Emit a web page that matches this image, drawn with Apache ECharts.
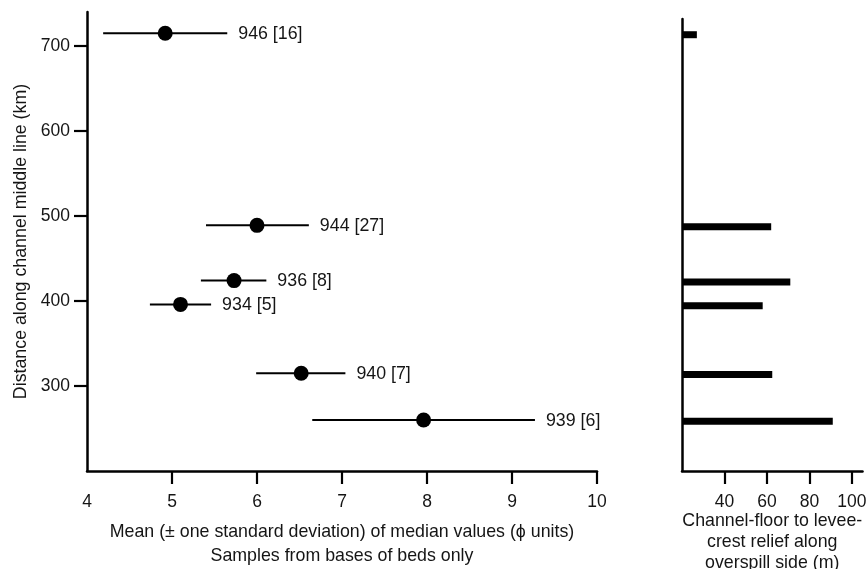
<!DOCTYPE html>
<html>
<head>
<meta charset="utf-8">
<script src="https://cdn.jsdelivr.net/npm/echarts@6/dist/echarts.min.js"></script>
<style>
html,body{margin:0;padding:0;background:#fff;}
#chart{width:868px;height:569px;}
</style>
</head>
<body>
<div id="chart"></div>
<script>
// ---- data ----
const sites      = ['946', '944', '936', '934', '940', '939'];
const sampleN    = [16, 27, 8, 5, 7, 6];
const distanceKm = [715, 489, 424, 396, 315, 260];
const meanPhi    = [4.92, 6.00, 5.73, 5.10, 6.52, 7.96];
const lowPhi     = [4.19, 5.40, 5.34, 4.74, 5.99, 6.65];
const highPhi    = [5.65, 6.61, 6.11, 5.46, 7.04, 9.27];
const reliefM    = [27, 62, 71, 58, 62.5, 91];

const phiTicks    = [4, 5, 6, 7, 8, 9, 10];
const distTicks   = [300, 400, 500, 600, 700];
const reliefTicks = [40, 60, 80, 100];

const siteLabels = sites.map((s, i) => s + ' [' + sampleN[i] + ']');
const errRows = sites.map((s, i) => [lowPhi[i], highPhi[i], distanceKm[i]]);
const meanRows = sites.map((s, i) => [meanPhi[i], distanceKm[i]]);
const barRows = sites.map((s, i) => [reliefM[i], distanceKm[i]]);

const FONT = '"Liberation Sans", Arial, sans-serif';
const TXT = '#151515';

const chart = echarts.init(document.getElementById('chart'), null, {renderer: 'canvas'});
chart.setOption({
  animation: false,
  backgroundColor: '#fff',
  textStyle: {fontFamily: FONT},
  grid: [
    {left: 87, right: 271, top: 12, bottom: 98, containLabel: false, outerBoundsMode: 'none'},
    {left: 682, right: 5.5, top: 19, bottom: 98, containLabel: false, outerBoundsMode: 'none'}
  ],
  xAxis: [
    {
      gridIndex: 0, type: 'value', min: 4, max: 10, interval: 1,
      axisLine: {onZero: false, lineStyle: {color: '#000', width: 2.5}},
      axisTick: {show: true, length: 13, lineStyle: {color: '#000', width: 2.2},
                 customValues: phiTicks.slice(1)},
      axisLabel: {customValues: phiTicks, color: TXT, fontSize: 17.5, margin: 22, fontFamily: FONT},
      splitLine: {show: false},
      name: 'Mean (\u00B1 one standard deviation) of median values (\u03D5 units)\nSamples from bases of beds only',
      nameLocation: 'middle', nameGap: 49, nameMoveOverlap: false,
      nameTextStyle: {color: TXT, fontSize: 17.8, lineHeight: 24, fontFamily: FONT, verticalAlign: 'top'}
    },
    {
      gridIndex: 1, type: 'value', min: 20, max: 105,
      axisLine: {onZero: false, lineStyle: {color: '#000', width: 2.5}},
      axisTick: {show: true, length: 13, lineStyle: {color: '#000', width: 2.2},
                 customValues: reliefTicks},
      axisLabel: {customValues: reliefTicks, color: TXT, fontSize: 17.5, margin: 22, fontFamily: FONT},
      splitLine: {show: false},
      name: 'Channel-floor to levee-\ncrest relief along\noverspill side (m)',
      nameLocation: 'middle', nameGap: 40, nameMoveOverlap: false,
      nameTextStyle: {color: TXT, fontSize: 17.8, lineHeight: 20.8, fontFamily: FONT, verticalAlign: 'top'}
    }
  ],
  yAxis: [
    {
      gridIndex: 0, type: 'value', min: 200, max: 740,
      axisLine: {show: true, onZero: false, lineStyle: {color: '#000', width: 2.5}},
      axisTick: {show: true, length: 13, lineStyle: {color: '#000', width: 2.2},
                 customValues: distTicks},
      axisLabel: {customValues: distTicks, color: TXT, fontSize: 17.5, margin: 17, fontFamily: FONT},
      splitLine: {show: false},
      name: 'Distance along channel middle line (km)',
      nameLocation: 'middle', nameGap: 57, nameRotate: 90, nameMoveOverlap: false,
      nameTextStyle: {color: TXT, fontSize: 17.8, fontFamily: FONT}
    },
    {
      gridIndex: 1, type: 'value', min: 201.5, max: 733.5,
      axisLine: {show: true, onZero: false, lineStyle: {color: '#000', width: 2.5}},
      axisTick: {show: false},
      axisLabel: {show: false},
      splitLine: {show: false}
    }
  ],
  series: [
    {
      type: 'custom', xAxisIndex: 0, yAxisIndex: 0,
      data: errRows,
      encode: {x: [0, 1], y: 2},
      z: 2,
      renderItem: function (params, api) {
        const lo = api.coord([api.value(0), api.value(2)]);
        const hi = api.coord([api.value(1), api.value(2)]);
        return {
          type: 'group',
          children: [
            {type: 'line', shape: {x1: lo[0], y1: lo[1], x2: hi[0], y2: hi[1]},
             style: {stroke: '#000', lineWidth: 2}},
            {type: 'text', x: hi[0] + 11, y: hi[1] + 1,
             style: {text: siteLabels[params.dataIndex], fill: TXT, fontSize: 17.8,
                     fontFamily: FONT, align: 'left', verticalAlign: 'middle'}}
          ]
        };
      }
    },
    {
      type: 'scatter', xAxisIndex: 0, yAxisIndex: 0,
      data: meanRows, symbol: 'circle', symbolSize: 15,
      itemStyle: {color: '#000', opacity: 1}, z: 3
    },
    {
      type: 'custom', xAxisIndex: 1, yAxisIndex: 1,
      data: barRows,
      encode: {x: 0, y: 1},
      renderItem: function (params, api) {
        const start = api.coord([20, api.value(1)]);
        const end = api.coord([api.value(0), api.value(1)]);
        const h = 7;
        return {
          type: 'rect',
          shape: {x: start[0], y: start[1] - h / 2, width: end[0] - start[0], height: h},
          style: {fill: '#000'}
        };
      }
    }
  ]
});
</script>
</body>
</html>
